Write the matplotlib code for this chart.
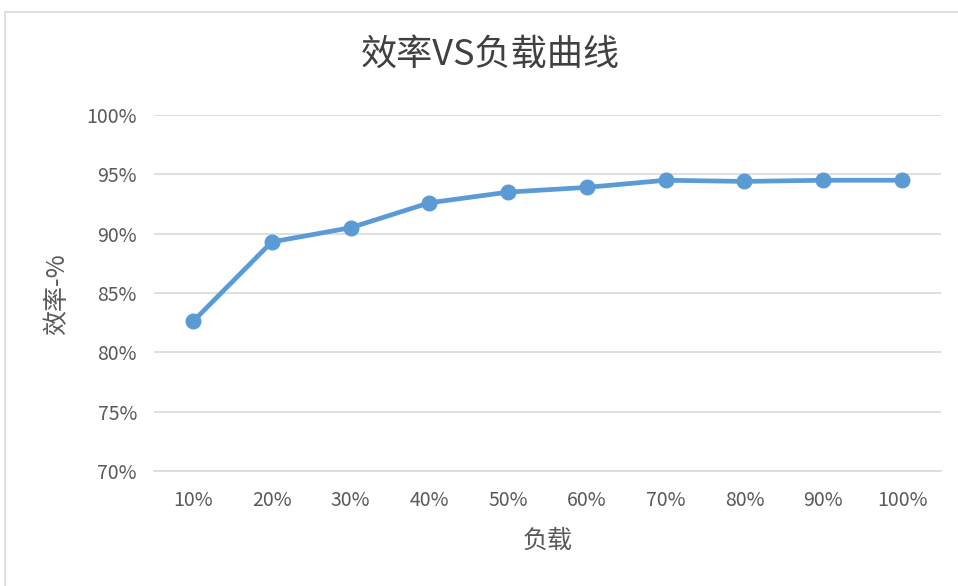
import matplotlib
matplotlib.use("Agg")
import matplotlib.pyplot as plt
from matplotlib.patches import Rectangle

plt.rcParams['font.family'] = ['Noto Sans CJK SC', 'DejaVu Sans']

# data
loads = ['10%', '20%', '30%', '40%', '50%', '60%', '70%', '80%', '90%', '100%']
efficiency = [82.6, 89.3, 90.5, 92.6, 93.5, 93.9, 94.5, 94.4, 94.5, 94.5]
y_ticks = [70, 75, 80, 85, 90, 95, 100]
y_tick_labels = ['70%', '75%', '80%', '85%', '90%', '95%', '100%']

fig = plt.figure(figsize=(9.58, 5.86), dpi=100)
ax = fig.add_axes([0.1603, 0.1962, 0.8224, 0.6076])

# outer chart border
fig.patches.append(Rectangle((5 / 958, -0.01), 1.0, 1 - 12 / 586 + 0.01,
                             transform=fig.transFigure, fill=False,
                             edgecolor='#d9d9d9', linewidth=1.2))

x = list(range(len(loads)))
ax.plot(x, efficiency, color='#5B9BD5', linewidth=3.4, marker='o',
        markersize=10.5, solid_capstyle='round', zorder=3)

ax.set_xlim(-0.5, len(loads) - 0.5)
ax.set_ylim(70, 100)
ax.set_yticks(y_ticks)
ax.set_yticklabels(y_tick_labels)
ax.set_xticks(x)
ax.set_xticklabels(loads)
ax.tick_params(axis='both', length=0, labelsize=14, colors='#595959')
ax.tick_params(axis='x', pad=14)
ax.tick_params(axis='y', pad=12)
ax.grid(axis='y', color='#d9d9d9', linewidth=1.2)
ax.set_axisbelow(True)
for s in ['top', 'right', 'left']:
    ax.spines[s].set_visible(False)
ax.spines['bottom'].set_color('#d9d9d9')
ax.spines['bottom'].set_linewidth(1.2)

fig.text(490 / 958, 1 - 55 / 586, '效率VS负载曲线', ha='center', va='center',
         fontsize=26, color='#404040')
fig.text(548 / 958, 1 - 541 / 586, '负载', ha='center', va='center',
         fontsize=18, color='#595959')
fig.text(57 / 958, 1 - 294 / 586, '效率-%', ha='center', va='center',
         fontsize=18, color='#595959', rotation=90)

fig.savefig('out.png', dpi=100)
